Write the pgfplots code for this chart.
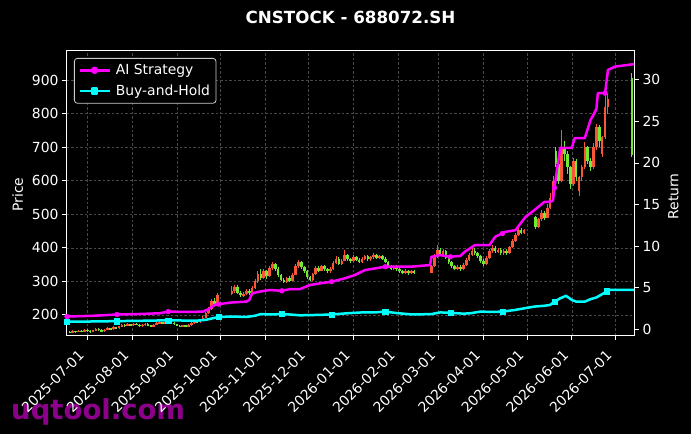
\documentclass[border=0pt]{standalone}
\usepackage{pgfplots}
\pgfplotsset{compat=1.18}
\usepackage{pgfplotstable}
\usepackage{fontspec}
\setmainfont{DejaVu Sans}

\definecolor{cred}{RGB}{250,85,55}
\definecolor{cgreen}{RGB}{110,235,50}
\definecolor{gridc}{RGB}{72,72,72}
\definecolor{wm}{RGB}{140,0,140}
\definecolor{aimag}{RGB}{255,0,255}
\definecolor{bhcyan}{RGB}{0,255,255}

% rising candles (red)
\pgfplotstableread{
x o h l c
-10 147 154 146 152
-6 149 155 148 153
-2 150 157 149 155
4 149 156 148 154
6 154 160 152 158
12 151 158 150 156
14 156 163 154 160
18 157 166 156 163
22 160 168 158 166
24 166 173 164 170
28 167 175 166 172
32 169 177 168 174
38 167 172 165 170
40 170 176 168 173
46 166 172 164 170
48 170 178 169 175
50 175 182 173 178
54 174 181 173 178
56 178 184 176 181
66 165 171 163 169
70 166 173 165 170
72 170 178 168 176
74 176 184 174 181
78 178 189 176 186
80 186 196 184 192
82 192 210 190 205
84 205 224 202 218
86 218 246 215 240
90 232 265 230 258
100 262 285 258 270
102 270 290 265 283
108 258 268 254 262
110 262 276 258 272
114 266 286 262 280
116 280 306 276 300
118 300 332 296 322
122 310 338 306 330
126 315 346 312 340
128 340 358 335 352
138 298 314 295 310
142 302 326 300 320
144 320 352 318 345
146 345 365 340 358
156 305 326 302 322
158 322 346 318 340
162 332 350 330 345
168 330 342 326 338
170 338 362 335 355
172 355 375 352 368
176 352 366 348 362
178 362 393 360 378
184 360 378 358 372
190 358 372 355 368
192 368 380 364 375
196 366 376 362 372
198 372 386 368 380
202 370 380 366 376
212 338 349 334 345
220 326 336 322 332
224 325 334 321 330
238 326 350 324 345
240 345 382 342 375
242 375 408 370 395
246 382 396 378 390
256 338 348 334 344
260 336 355 334 350
262 350 370 346 365
264 365 386 360 380
266 380 398 376 392
276 352 375 348 370
278 370 396 366 392
280 392 408 386 400
284 390 398 386 394
288 385 396 380 392
292 384 406 382 402
294 402 425 398 420
296 420 444 416 438
298 438 460 434 452
302 445 456 440 452
312 462 490 458 485
314 485 512 480 505
318 490 530 488 520
320 520 563 515 548
322 548 615 540 600
328 600 752 596 700
336 590 668 585 660
340 570 615 555 610
342 610 648 600 640
344 640 715 635 700
350 640 712 635 700
352 700 770 692 760
356 680 735 670 730
358 730 862 725 820
360 820 860 800 845
}\upcandles

% falling candles (green)
\pgfplotstableread{
x o h l c
-12 150 152 145 147
-8 152 153 147 149
-4 153 155 148 150
0 155 157 150 152
2 152 154 147 149
8 158 161 153 155
10 155 157 149 151
16 160 162 155 157
20 163 165 158 160
26 170 172 165 167
30 172 174 167 169
34 174 176 169 171
36 171 173 165 167
42 173 175 167 169
44 169 171 164 166
52 178 180 172 174
58 181 183 175 177
60 177 179 170 172
62 172 174 166 168
64 168 170 163 165
68 169 171 164 166
76 181 185 176 178
88 240 250 228 232
104 283 288 262 266
106 266 272 252 258
112 272 278 260 266
120 322 336 305 310
124 330 334 308 315
130 352 356 332 338
132 338 342 312 318
134 318 322 300 305
136 305 310 294 298
140 310 315 298 302
148 358 362 338 342
150 342 346 326 330
152 330 334 306 312
154 312 316 300 305
160 340 345 328 332
164 345 349 332 336
166 336 340 326 330
174 368 372 348 352
180 378 382 360 366
182 366 370 355 360
186 372 376 360 365
188 365 369 354 358
194 375 379 362 366
200 380 383 366 370
204 376 380 364 368
206 368 372 354 358
208 358 362 342 346
210 346 350 334 338
214 345 348 332 336
216 336 340 326 330
218 330 334 322 326
222 332 335 320 325
226 330 333 322 326
244 395 400 378 382
248 390 393 366 370
250 370 374 352 358
252 358 362 340 345
254 345 350 333 338
258 344 348 330 336
268 392 398 378 384
270 384 388 370 376
272 376 380 356 362
274 362 366 346 352
282 400 404 386 390
286 394 398 380 385
290 392 396 380 384
300 452 458 440 445
310 492 495 455 462
316 505 510 484 490
324 690 700 640 650
326 650 655 590 600
330 700 720 660 680
332 680 690 620 640
334 640 645 575 590
338 660 665 600 610
346 700 705 650 660
348 660 668 630 640
354 760 765 700 720
376.6 908 920 670 676
}\downcandles

\begin{document}
\begin{tikzpicture}
\useasboundingbox (-67pt,-99pt) rectangle (624pt,335pt);
\fill[black] (-67pt,-99pt) rectangle (624pt,335pt);
\node[anchor=base west, font=\fontsize{27.5}{30}\selectfont\bfseries, text=wm, inner sep=0pt] at (-56pt,-84pt) {uqtool.com};

\begin{axis}[
  at={(0pt,0pt)}, anchor=south west, scale only axis,
  width=567pt, height=285pt,
  xmin=-14, xmax=378, ymin=140, ymax=990,
  axis line style={white, line width=1pt},
  xtick={0,31,62,92,123,153,184,215,243,274,304,335,365},
  xticklabels={2025-07-01,2025-08-01,2025-09-01,2025-10-01,2025-11-01,2025-12-01,2026-01-01,2026-02-01,2026-03-01,2026-04-01,2026-05-01,2026-06-01,2026-07-01},
  ytick={200,300,400,500,600,700,800,900},
  xtick pos=left, ytick pos=left,
  tick align=outside, major tick length=5pt,
  tick style={white, line width=0.8pt},
  tick label style={text=white, font=\fontsize{13.9}{16}\selectfont},
  /pgf/number format/assume math mode=true,
  xticklabel style={xshift=-2.3pt, yshift=-16.5pt, rotate=45, anchor=base east, inner sep=0pt},
  grid=major, grid style={gridc, dash pattern=on 2.5pt off 2pt, line width=0.6pt},
]
% wicks
\addplot[draw=none, mark=none, error bars/.cd, y dir=both, y explicit, error mark=none,
  error bar style={draw=cred, solid, line width=1pt}]
  table[x=x, y expr={(\thisrow{h}+\thisrow{l})/2}, y error expr={(\thisrow{h}-\thisrow{l})/2}] {\upcandles};
\addplot[draw=none, mark=none, error bars/.cd, y dir=both, y explicit, error mark=none,
  error bar style={draw=cgreen, solid, line width=1pt}]
  table[x=x, y expr={(\thisrow{h}+\thisrow{l})/2}, y error expr={(\thisrow{h}-\thisrow{l})/2}] {\downcandles};
% bodies
\addplot[draw=none, mark=none, error bars/.cd, y dir=both, y explicit, error mark=none,
  error bar style={draw=cred, solid, line width=2.6pt}]
  table[x=x, y expr={(\thisrow{o}+\thisrow{c})/2}, y error expr={(\thisrow{c}-\thisrow{o})/2}] {\upcandles};
\addplot[draw=none, mark=none, error bars/.cd, y dir=both, y explicit, error mark=none,
  error bar style={draw=cgreen, solid, line width=2.6pt}]
  table[x=x, y expr={(\thisrow{o}+\thisrow{c})/2}, y error expr={(\thisrow{o}-\thisrow{c})/2}] {\downcandles};
\end{axis}

\begin{axis}[
  at={(0pt,0pt)}, anchor=south west, scale only axis,
  width=567pt, height=285pt,
  xmin=-14, xmax=378, ymin=-0.72, ymax=33.6,
  axis y line*=right, axis x line=none,
  axis line style={white, line width=1pt},
  ytick={0,5,10,15,20,25,30},
  tick align=outside, major tick length=5pt,
  tick style={white, line width=0.8pt},
  tick label style={text=white, font=\fontsize{13.9}{16}\selectfont},
  /pgf/number format/assume math mode=true,
  legend style={at={(0.0123,0.972)}, anchor=north west, fill=black,
    draw=white!80!black, line width=0.8pt, rounded corners=3pt, text=white,
    font=\fontsize{13.9}{16}\selectfont, inner xsep=4pt, inner ysep=4pt, row sep=5pt, column sep=3pt},
  legend cell align=left,
  legend image code/.code={\draw[#1, mark repeat=2, mark phase=2] plot coordinates {(0pt,0pt) (15pt,0pt) (30pt,0pt)};},
]
\addplot[aimag, line width=2.5pt, line join=round, mark=*, mark size=2.4pt, mark phase=100000] coordinates {
(-14,1.5) (-5,1.55) (5,1.6) (20.5,1.75) (35,1.8) (50,1.9) (56,2.1) (70,2.05) (80,2.1) (84,2.4) (88,2.9) (91,3.0) (100,3.2) (110,3.3) (112,3.5) (114,4.3) (119,4.5) (126,4.7) (134.5,4.6) (140,4.8) (147,4.8) (154,5.3) (161,5.5) (169,5.7) (178,6.1) (185,6.5) (192,7.1) (199,7.3) (206,7.5) (213,7.5) (223,7.5) (237,7.7) (238,8.7) (244,8.9) (251,8.7) (258,8.8) (261,9.3) (268,10.1) (278,10.1) (282,11.1) (289,11.7) (296,11.9) (303,13.5) (309,14.3) (316,15.3) (320,15.3) (322,15.5) (323,17.0) (324,18.2) (325,19.5) (327,21.8) (335,21.8) (337,23) (344,23) (348,25.2) (350,25.8) (352,26.5) (353,28.4) (358,28.4) (360,31.2) (365,31.6) (378,31.9)
};
\addlegendentry{AI Strategy}
\addplot[bhcyan, line width=2.5pt, line join=round, mark=square*, mark size=2.6pt, mark phase=100000] coordinates {
(-14,0.88) (0,0.9) (20.5,0.95) (40,1.0) (56,1.05) (75,1.0) (82,1.1) (88,1.35) (91,1.45) (100,1.5) (110,1.45) (116,1.6) (120,1.8) (126,1.75) (134.5,1.8) (140,1.75) (147,1.65) (160,1.7) (169,1.75) (180,1.9) (190,2.0) (199,2.0) (206,2.1) (215,1.9) (225,1.75) (238,1.8) (244,2.0) (251,1.95) (260,1.85) (265,1.9) (272,2.1) (280,2.05) (287,2.1) (296,2.3) (299,2.4) (309,2.7) (316,2.8) (320,2.9) (323,3.3) (327,3.7) (331,4.0) (335,3.5) (338,3.3) (344,3.3) (348,3.6) (352,3.8) (355,4.1) (358,4.4) (360,4.7) (378,4.7)
};
\addlegendentry{Buy-and-Hold}
\addplot[only marks, aimag, mark=*, mark size=2.4pt, forget plot] coordinates {
(-14,1.5) (20.5,1.75) (56,2.1) (91,3.0) (134.5,4.6) (169,5.7) (206,7.5) (251,8.7) (287,11.5) (323,17.0) (358,28.4)
};
\addplot[only marks, bhcyan, mark=square*, mark size=2.6pt, forget plot] coordinates {
(-14,0.88) (20.5,0.95) (56,1.05) (91,1.45) (134.5,1.8) (169,1.75) (206,2.1) (251,1.95) (287,2.1) (323,3.3) (359,4.55)
};
\end{axis}

\node[anchor=base, font=\fontsize{16.7}{19}\selectfont\bfseries, text=white] at (283.5pt,311pt) {CNSTOCK - 688072.SH};
\node[rotate=90, font=\fontsize{13.9}{16}\selectfont, text=white] at (-49.2pt,140.4pt) {Price};
\node[rotate=90, font=\fontsize{13.9}{16}\selectfont, text=white] at (606.3pt,138.5pt) {Return};
\end{tikzpicture}
\end{document}
